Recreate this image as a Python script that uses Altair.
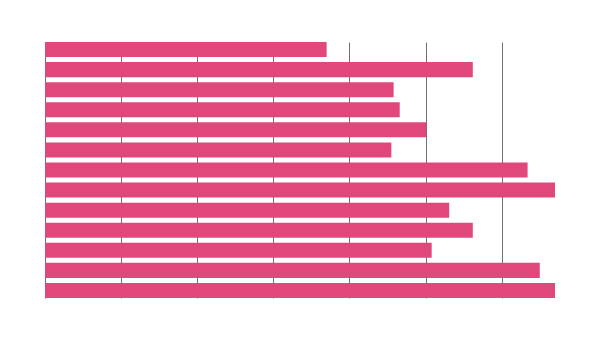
import altair as alt
import pandas as pd

categories = ["A", "B", "C", "D", "E", "F", "G", "H", "I", "J", "K", "L", "M"]
values = [37, 56.2, 45.8, 46.6, 50.1, 45.5, 63.4, 67, 53.1, 56.2, 50.8, 65, 67]

df = pd.DataFrame({"cat": categories, "val": values})

chart = alt.Chart(df).mark_bar(color="#e0487b").encode(
    x=alt.X("val:Q",
            scale=alt.Scale(domain=[0, 67], nice=False, zero=True),
            axis=alt.Axis(title=None, labels=False, ticks=False, domain=False,
                          grid=True, gridColor="#707070", gridOpacity=1, gridWidth=1,
                          values=[0, 10, 20, 30, 40, 50, 60])),
    y=alt.Y("cat:N", sort=categories,
            scale=alt.Scale(paddingInner=0.25, paddingOuter=0),
            axis=None),
).properties(
    width=510, height=256,
    background="white",
    autosize=alt.AutoSizeParams(type="none"),
    padding={"left": 45, "top": 42, "right": 45, "bottom": 42},
).configure_view(stroke=None)

chart.save("out.html", embed_options={"renderer": "svg", "actions": False})
